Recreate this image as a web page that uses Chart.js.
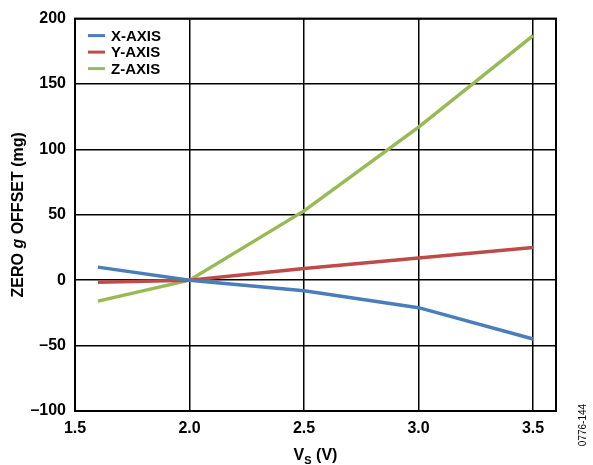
<!DOCTYPE html>
<html lang="en">
<head>
  <meta charset="UTF-8">
  <title>Zero g Offset vs Supply Voltage</title>
  <script src="https://cdn.jsdelivr.net/npm/chart.js@4"></script>
  <style>
    * { margin: 0; padding: 0; box-sizing: border-box; }
    body { background: #fff; width: 593px; height: 465px; overflow: hidden; }
    .chart-box { position: relative; width: 593px; height: 465px; }
  </style>
</head>
<body>
  <div class="chart-box">
    <canvas id="offsetChart"></canvas>
  </div>

  <script>
    // supply voltage points and measured zero g offsets (mg)
    const vs = [1.6, 2.0, 2.5, 3.0, 3.5];
    const xAxisOffset = [10, 0, -8, -21, -45];
    const yAxisOffset = [-1.5, 0, 9, 17, 25];
    const zAxisOffset = [-16, 0, 53, 117, 187];
    const xTicks = [1.5, 2.0, 2.5, 3.0, 3.5];
    const yTicks = [-100, -50, 0, 50, 100, 150, 200];

    const seriesNames = ['X-AXIS', 'Y-AXIS', 'Z-AXIS'];
    const seriesColors = ['#4a7ebb', '#be4b48', '#98b954'];
    const FONT = '"Liberation Sans", Arial, sans-serif';

    const toPoints = arr => vs.map((v, i) => ({ x: v, y: arr[i] }));

    // frame, legend and axis titles drawn on top
    const decor = {
      id: 'decor',
      afterDraw(chart) {
        const c = chart.ctx;
        const a = chart.chartArea;
        c.save();
        c.strokeStyle = '#000';
        c.lineWidth = 2;
        c.strokeRect(a.left, a.top, a.right - a.left, a.bottom - a.top);

        // legend inside plot
        c.font = 'bold 15px ' + FONT;
        c.textBaseline = 'middle';
        c.textAlign = 'left';
        seriesNames.forEach((name, i) => {
          const y = a.top + 17 + i * 16.5;
          c.strokeStyle = seriesColors[i];
          c.lineWidth = 3;
          c.beginPath();
          c.moveTo(a.left + 13, y);
          c.lineTo(a.left + 30, y);
          c.stroke();
          c.fillStyle = '#000';
          c.fillText(name, a.left + 36, y + 1);
        });

        // y title with italic g
        const parts = [
          ['bold 16px ' + FONT, 'ZERO '],
          ['bold italic 16px ' + FONT, 'g'],
          ['bold 16px ' + FONT, ' OFFSET (mg)']
        ];
        let total = 0;
        parts.forEach(p => { c.font = p[0]; total += c.measureText(p[1]).width; });
        c.translate(19, (a.top + a.bottom) / 2);
        c.rotate(-Math.PI / 2);
        let px = -total / 2;
        c.textBaseline = 'middle';
        parts.forEach(p => {
          c.font = p[0];
          c.fillText(p[1], px, 0);
          px += c.measureText(p[1]).width;
        });
        c.setTransform(1, 0, 0, 1, 0, 0);

        // x title V_S (V)
        const cx = (a.left + a.right) / 2;
        c.font = 'bold 16px ' + FONT;
        const wV = c.measureText('V').width;
        c.font = 'bold 11px ' + FONT;
        const wS = c.measureText('S').width;
        c.font = 'bold 16px ' + FONT;
        const wR = c.measureText(' (V)').width;
        let tx = cx - (wV + wS + wR) / 2;
        c.textBaseline = 'alphabetic';
        c.fillText('V', tx, 460);
        tx += wV;
        c.font = 'bold 11px ' + FONT;
        c.fillText('S', tx, 464);
        tx += wS;
        c.font = 'bold 16px ' + FONT;
        c.fillText(' (V)', tx, 460);

        // figure id
        c.font = '10px ' + FONT;
        c.translate(583, 425);
        c.rotate(-Math.PI / 2);
        c.textAlign = 'center';
        c.textBaseline = 'middle';
        c.fillText('0776-144', 0, 0);
        c.restore();
      }
    };

    const ctx = document.getElementById('offsetChart').getContext('2d');
    new Chart(ctx, {
      type: 'line',
      data: {
        datasets: [
          { label: seriesNames[0], data: toPoints(xAxisOffset), borderColor: seriesColors[0] },
          { label: seriesNames[1], data: toPoints(yAxisOffset), borderColor: seriesColors[1] },
          { label: seriesNames[2], data: toPoints(zAxisOffset), borderColor: seriesColors[2] }
        ].map(d => Object.assign(d, { borderWidth: 3.5, pointRadius: 0, tension: 0, fill: false }))
      },
      options: {
        responsive: true,
        maintainAspectRatio: false,
        animation: false,
        layout: { padding: { left: 0, right: 37, top: 18, bottom: 0 } },
        plugins: { legend: { display: false }, tooltip: { enabled: false } },
        scales: {
          x: {
            type: 'linear',
            min: 1.5,
            max: 3.6,
            afterBuildTicks: s => { s.ticks = xTicks.map(v => ({ value: v })); },
            afterFit: s => { s.height = 54; },
            grid: { color: '#000', lineWidth: 1.5, drawTicks: false },
            border: { display: false },
            ticks: {
              color: '#000',
              padding: 8,
              maxRotation: 0,
              font: { family: FONT, size: 16, weight: 'bold' },
              callback: v => v.toFixed(1)
            }
          },
          y: {
            min: -100,
            max: 200,
            afterBuildTicks: s => { s.ticks = yTicks.map(v => ({ value: v })); },
            afterFit: s => { s.width = 75; },
            grid: { color: '#000', lineWidth: 1.5, drawTicks: false },
            border: { display: false },
            ticks: {
              color: '#000',
              padding: 9,
              font: { family: FONT, size: 16, weight: 'bold' },
              callback: v => String(v).replace('-', '\u2013')
            }
          }
        }
      },
      plugins: [decor]
    });
  </script>
</body>
</html>
